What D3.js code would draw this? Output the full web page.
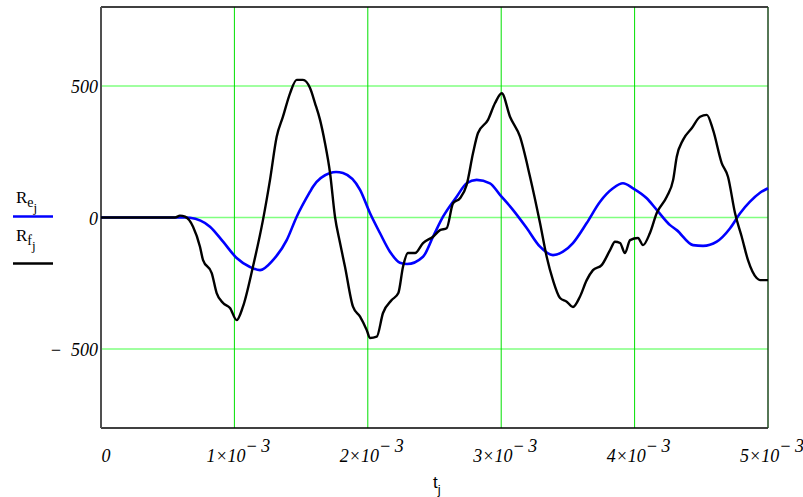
<!DOCTYPE html>
<html>
<head>
<meta charset="utf-8">
<script src="https://cdn.jsdelivr.net/npm/d3@7"></script>
<style>
    body { margin: 0; background: #fff; }
    svg { display: block; }
</style>
</head>
<body>
<div id="chart"></div>
<script>
// time in units of 1e-3 (s)
const tE = [0, 0.63, 0.667, 0.817, 0.915, 1.017, 1.117, 1.192, 1.289, 1.392, 1.467, 1.567, 1.589, 1.717, 1.762, 1.814,
    1.942, 2.016, 2.091, 2.166, 2.241, 2.294, 2.414, 2.489, 2.564, 2.666, 2.741, 2.816, 2.916, 2.991, 3.088,
    3.191, 3.291, 3.388, 3.463, 3.538, 3.641, 3.741, 3.838, 3.913, 3.988, 4.091, 4.166, 4.266, 4.316, 4.438,
    4.513, 4.616, 4.716, 4.791, 4.865, 4.94, 5.0];
const Re = [0, 0, -1, -35, -92, -154, -188, -200, -162, -86, 3, 98, 117, 169, 173, 169,
    105, 17, -59, -130, -172, -177, -149, -73, 3, 79, 130, 143, 130, 86, 29,
    -40, -111, -143, -130, -97, -21, 60, 111, 130, 111, 73, 29, -29, -48, -105,
    -108, -92, -41, 16, 60, 94, 111];

const tF = [0, 0.555, 0.592, 0.63, 0.69, 0.742, 0.765, 0.83, 0.867, 0.915, 0.967, 1.017, 1.064, 1.139, 1.214,
    1.267, 1.317, 1.364, 1.417, 1.467, 1.514, 1.567, 1.604, 1.642, 1.679, 1.717, 1.754, 1.792, 1.829, 1.889,
    1.942, 1.992, 2.016, 2.067, 2.114, 2.179, 2.229, 2.264, 2.301, 2.354, 2.414, 2.489, 2.541, 2.591, 2.639,
    2.691, 2.741, 2.789, 2.826, 2.901, 2.954, 3.004, 3.066, 3.141, 3.216, 3.291, 3.341, 3.388, 3.441, 3.491,
    3.538, 3.59, 3.641, 3.688, 3.753, 3.816, 3.853, 3.891, 3.928, 3.966, 4.025, 4.063, 4.115, 4.166, 4.241,
    4.289, 4.316, 4.363, 4.428, 4.491, 4.541, 4.588, 4.653, 4.7, 4.753, 4.803, 4.85, 4.915, 4.94, 5.0];
const Rf = [0, 0, 7, 3, -35, -111, -162, -211, -287, -325, -344, -390, -339, -187, -10,
    143, 307, 383, 472, 523, 523, 492, 435, 371, 283, 169, 3, -97, -187, -339,
    -377, -428, -458, -453, -363, -314, -287, -187, -135, -135, -97, -73, -48, -41, 54,
    73, 124, 245, 321, 371, 435, 472, 383, 307, 155, -21, -149, -238, -306, -320,
    -340, -301, -238, -200, -181, -124, -92, -97, -135, -86, -78, -105, -59, 17, 79,
    143, 231, 295, 339, 383, 390, 333, 207, 155, 16, -73, -162, -230, -238, -238];

const xTicks = [0, 1, 2, 3, 4, 5];
const yTicks = [-500, 0, 500];

const width = 803, height = 497;
const plot = { left: 101, right: 768, top: 7, bottom: 428 };
const serif = "Liberation Serif";

const svg = d3.select("#chart").append("svg")
    .attr("width", width)
    .attr("height", height);

const x = d3.scaleLinear().domain([0, 5e-3]).range([plot.left, plot.right]);
const y = d3.scaleLinear().domain([-800, 800]).range([plot.bottom, plot.top]);

// grid
svg.append("g").selectAll("line")
    .data(yTicks)
    .join("line")
    .attr("x1", plot.left).attr("x2", plot.right)
    .attr("y1", d => y(d)).attr("y2", d => y(d))
    .attr("stroke", "#80ff80")
    .attr("stroke-width", 1.5);

svg.append("g").selectAll("line")
    .data(xTicks.filter(d => d > 0 && d < 5))
    .join("line")
    .attr("x1", d => x(d * 1e-3)).attr("x2", d => x(d * 1e-3))
    .attr("y1", plot.top).attr("y2", plot.bottom)
    .attr("stroke", "#00e000")
    .attr("stroke-width", 1);

// frame
svg.append("line").attr("x1", plot.left).attr("x2", plot.right).attr("y1", plot.top).attr("y2", plot.top)
    .attr("stroke", "#000").attr("stroke-width", 1.5);
svg.append("line").attr("x1", plot.left).attr("x2", plot.right).attr("y1", plot.bottom).attr("y2", plot.bottom)
    .attr("stroke", "#000").attr("stroke-width", 1.5);
svg.append("line").attr("x1", plot.left).attr("x2", plot.left).attr("y1", plot.top).attr("y2", plot.bottom)
    .attr("stroke", "#505050").attr("stroke-width", 2);
svg.append("line").attr("x1", plot.right).attr("x2", plot.right).attr("y1", plot.top).attr("y2", plot.bottom)
    .attr("stroke", "#1e4a1e").attr("stroke-width", 1.5);

// curves
const line = d3.line()
    .x(d => x(d[0] * 1e-3))
    .y(d => y(d[1]))
    .curve(d3.curveMonotoneX);

svg.append("path")
    .datum(d3.zip(tE, Re))
    .attr("d", line)
    .attr("fill", "none")
    .attr("stroke", "#0000ff")
    .attr("stroke-width", 2.6);

svg.append("path")
    .datum(d3.zip(tF, Rf))
    .attr("d", line)
    .attr("fill", "none")
    .attr("stroke", "#000")
    .attr("stroke-width", 2.4);

// y tick labels
svg.append("g").selectAll("text")
    .data(yTicks)
    .join("text")
    .attr("x", 98)
    .attr("y", d => y(d) + 7)
    .attr("text-anchor", "end")
    .style("font-family", serif)
    .style("font-size", "18px")
    .style("font-style", "italic")
    .text(d => d < 0 ? "\u2212\u2002" + Math.abs(d) : d);

// x tick labels
const xl = svg.append("g").selectAll("text")
    .data(xTicks)
    .join("text")
    .attr("x", d => x(d * 1e-3) + (d === 0 ? 5 : 4))
    .attr("y", 462)
    .attr("text-anchor", "middle")
    .style("font-family", serif)
    .style("font-size", "18px")
    .style("font-style", "italic");

xl.each(function(d) {
    const t = d3.select(this);
    if (d === 0) { t.text("0"); return; }
    t.append("tspan").text(d + "\u00d710");
    t.append("tspan").attr("dy", -10).text("\u2212\u2009" + "3");
});

// axis title
const xt = svg.append("text").attr("x", 433).attr("y", 488)
    .style("font-family", "Liberation Sans").style("font-size", "17px");
xt.append("tspan").text("t");
xt.append("tspan").attr("dy", 6).style("font-size", "13px").text("j");

// legend
function legendLabel(yBase, sub) {
    const t = svg.append("text").attr("x", 16).attr("y", yBase)
        .style("font-family", serif).style("font-size", "17px");
    t.append("tspan").text("R");
    t.append("tspan").attr("dy", 4).style("font-size", "14px").text(sub);
    t.append("tspan").attr("dy", 5).style("font-size", "13px").text("j");
}
legendLabel(203, "e");
legendLabel(241, "f");

svg.append("line").attr("x1", 13).attr("x2", 53).attr("y1", 216.5).attr("y2", 216.5)
    .attr("stroke", "#0000ff").attr("stroke-width", 2.6);
svg.append("line").attr("x1", 13).attr("x2", 53).attr("y1", 263.5).attr("y2", 263.5)
    .attr("stroke", "#000").attr("stroke-width", 2.6);
</script>
</body>
</html>
